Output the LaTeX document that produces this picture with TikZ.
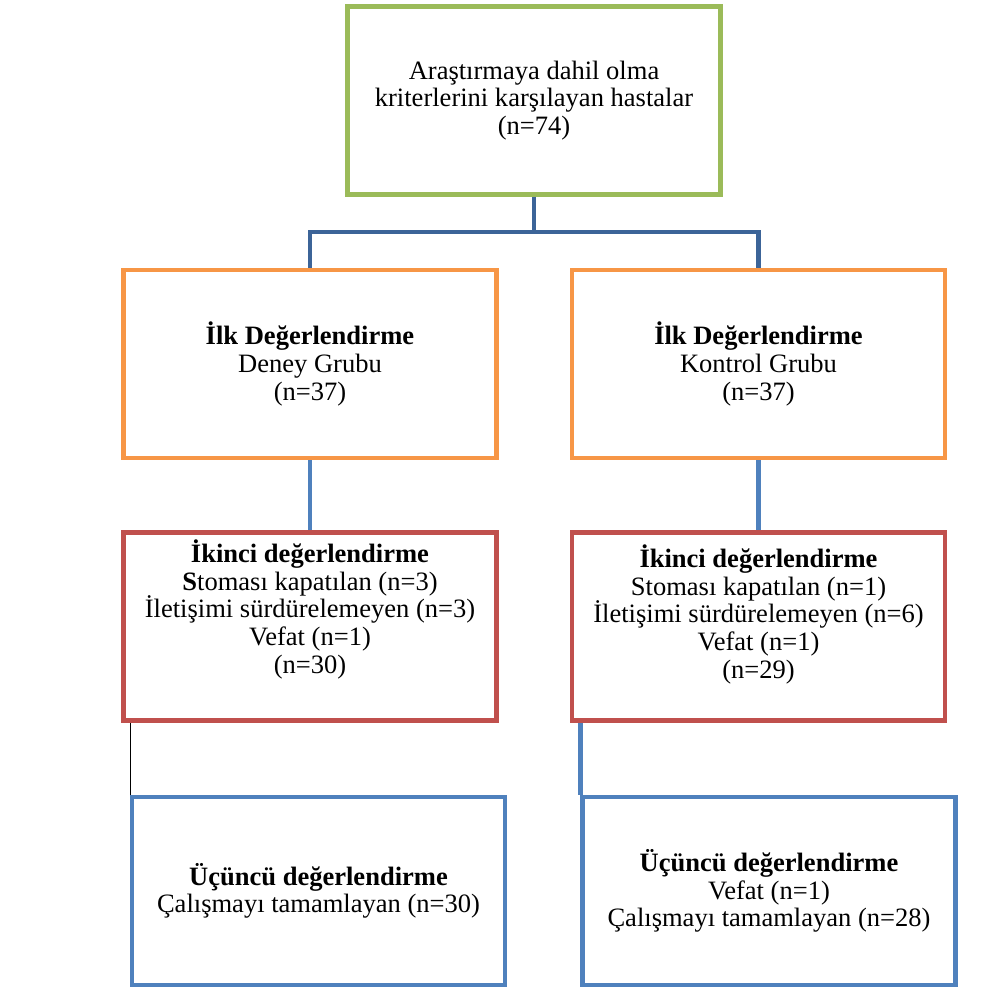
\documentclass[tikz,border=0pt]{standalone}
\usepackage{fontspec}
\setmainfont{Liberation Serif}
\usetikzlibrary{positioning}
\definecolor{boxgreen}{HTML}{9BBB59}
\definecolor{boxorange}{HTML}{F79646}
\definecolor{boxred}{HTML}{C0504D}
\definecolor{boxblue}{HTML}{4F81BD}
\definecolor{linkdark}{HTML}{3C6498}
\tikzset{
  box/.style={draw, line width=2.6pt, minimum width=7.46cm, minimum height=3.76cm,
    align=center, inner sep=0pt, font=\fontsize{15.1}{15.7}\selectfont},
  link/.style={line width=2.7pt, boxblue}
}
\newcommand{\topbox}[1]{\parbox[c][3.7cm][t]{7.3cm}{\centering\vspace*{0.12cm}#1}}
\begin{document}
\begin{tikzpicture}[x=0.02cm, y=-0.02cm]
\useasboundingbox (0,0) rectangle (983,988);
\node[box, draw=boxgreen] (all) at (534,100.5) {Araştırmaya dahil olma\\kriterlerini karşılayan hastalar\\(n=74)};
\node[box, draw=boxorange] (first1) at (310,364) {\textbf{İlk Değerlendirme}\\Deney Grubu\\(n=37)};
\node[box, draw=boxorange] (first2) at (758.5,364) {\textbf{İlk Değerlendirme}\\Kontrol Grubu\\(n=37)};
\node[box, draw=boxred] (second1) at (310,626.5) {\topbox{\textbf{İkinci değerlendirme}\\\textbf{S}toması kapatılan (n=3)\\İletişimi sürdürelemeyen (n=3)\\Vefat (n=1)\\(n=30)}};
\node[box, draw=boxred] (second2) at (758.5,626.5) {\topbox{\vspace*{0.1cm}\textbf{İkinci değerlendirme}\\Stoması kapatılan (n=1)\\İletişimi sürdürelemeyen (n=6)\\Vefat (n=1)\\(n=29)}};
\node[box, draw=boxblue] (third1) at (318.5,891) {\textbf{Üçüncü değerlendirme}\\Çalışmayı tamamlayan (n=30)};
\node[box, draw=boxblue] (third2) at (769,891) {\textbf{Üçüncü değerlendirme}\\Vefat (n=1)\\Çalışmayı tamamlayan (n=28)};
\coordinate (split) at (534,232);
% links
\draw[link, linkdark] (all) -- (split);
\draw[link, linkdark] (split) -| (first1);
\draw[link, linkdark] (split) -| (first2);
\draw[link] (first1) -- (second1);
\draw[link] (first2) -- (second2);
\draw[thin] (second1.south -| third1.west) ++(1,0) -- ([xshift=0.02cm]third1.north west);
\draw[link] (second2.south -| third2.west) -- (third2.north west);
\end{tikzpicture}
\end{document}
